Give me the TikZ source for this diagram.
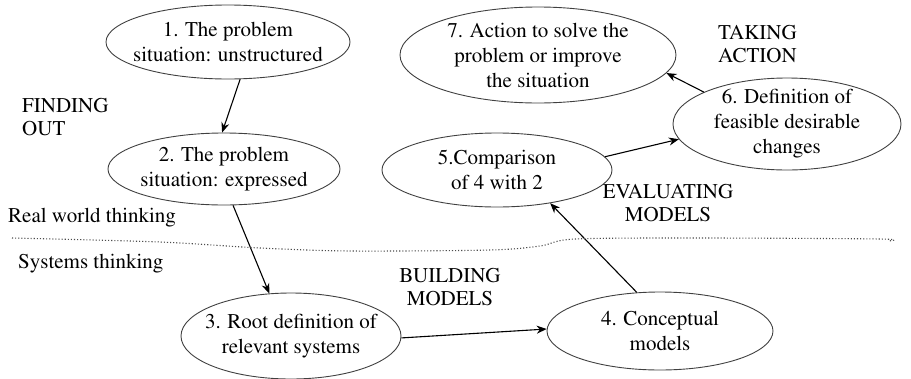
\documentclass[tikz,border=0pt]{standalone}
\usepackage[T1]{fontenc}
\usepackage{mathptmx}
\usetikzlibrary{shapes.geometric,arrows.meta}
\begin{document}
\begin{tikzpicture}[x=1pt,y=-1pt,
  ell/.style={ellipse,draw=black!75,line width=0.9pt,inner xsep=-40pt,inner ysep=-15pt,align=center,
    font=\fontsize{21}{25}\selectfont},
  lab/.style={font=\fontsize{21}{23}\selectfont,inner sep=0pt},
  arr/.style={-{Stealth[length=10pt,width=8pt]},line width=1.1pt},
  sep/.style={dotted,line width=1.1pt,black!70}]
\useasboundingbox (0,0) rectangle (911,378);
\node[ell,minimum width=244,minimum height=74] (n1) at (228,42) {1. The problem\\situation: unstructured};
\node[ell,minimum width=232,minimum height=72] (n2) at (224,169) {2. The problem\\situation: expressed};
\node[ell,minimum width=220,minimum height=86] (n3) at (291,336) {3. Root definition of\\relevant systems};
\node[ell,minimum width=226,minimum height=78] (n4) at (660,331) {4. Conceptual\\models};
\node[ell,minimum width=230,minimum height=74] (n5) at (497,170) {5.Comparison\\of 4 with 2};
\node[ell,minimum width=228,minimum height=92] (n6) at (787,124) {6. Definition of\\feasible desirable\\changes};
\node[ell,minimum width=276,minimum height=96] (n7) at (538,55) {7. Action to solve the\\problem or improve\\the situation};

\draw[arr] (n1.-72) -- (n2.93);
\draw[arr] (n2.-76) -- (n3.117);
\draw[arr] (n3.-1) -- (n4.179);
\draw[arr] (n4.121) -- (n5.-32);
\draw[arr] (n5.7) -- (n6.188);
\draw[arr] (n6.159) -- (n7.-8);

\node[lab,anchor=west,align=left] (fo) at (22,117) {FINDING\\OUT};
\node[lab,anchor=west,align=left] (ta) at (718,44) {TAKING\\ACTION};
\node[lab,align=center] (em) at (668,203) {EVALUATING\\MODELS};
\node[lab,align=center] (bm) at (450,287) {BUILDING\\MODELS};
\node[lab,anchor=west] (rw) at (8,218) {Real world thinking};
\node[lab,anchor=west] (st) at (18,264) {Systems thinking};

\draw[sep] plot[smooth] coordinates {(12,238) (160,242) (260,248) (350,251) (490,250) (540,246) (575,239) (700,238) (880,239) (888,241)};
\end{tikzpicture}
\end{document}
